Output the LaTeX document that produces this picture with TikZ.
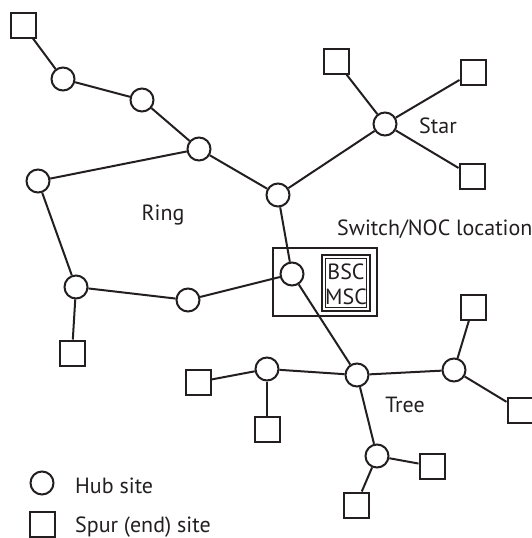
\documentclass[tikz,border=0pt]{standalone}
\usepackage{fontspec}
\setmainfont{PT Sans}
\definecolor{ink}{HTML}{231F20}
\tikzset{
  hub/.style={circle,draw=ink,line width=2pt,minimum size=23pt,inner sep=0pt},
  spur/.style={rectangle,draw=ink,line width=2pt,minimum size=25pt,inner sep=0pt},
  lbl/.style={font=\fontsize{22}{26}\selectfont,text=ink,inner sep=0pt},
  link/.style={draw=ink,line width=2pt}
}
\begin{document}
\begin{tikzpicture}[x=1pt,y=-1pt]
      \useasboundingbox (0,0) rectangle (532,538);
      % switch / NOC location
      \draw[ink,line width=1.8pt] (273,248) rectangle (377,316);
      \draw[ink,line width=2pt] (322,255) rectangle (370,311);
      \draw[ink,line width=0.9pt] (325.5,258.5) rectangle (366.5,307.5);
      \node[lbl,anchor=base] (bsc) at (346,279) {BSC};
      \node[lbl,anchor=base] (msc) at (346,304) {MSC};
      \draw
        (63,79) node[hub] (h1){}
        (142,100) node[hub] (h2){}
        (199,149) node[hub] (h3){}
        (38,181) node[hub] (h4){}
        (278,195) node[hub] (h5){}
        (385,124) node[hub] (star){}
        (292,274) node[hub] (sw){}
        (76,287) node[hub] (h6){}
        (188,300) node[hub] (h7){}
        (357,375) node[hub] (tc){}
        (267,369) node[hub] (tl){}
        (454,370) node[hub] (tr){}
        (377,456) node[hub] (tb){};
      \draw
        (23,25) node[spur] (s1){}
        (336,61) node[spur] (s2){}
        (473,72) node[spur] (s3){}
        (472,176) node[spur] (s4){}
        (72,353) node[spur] (s5){}
        (198,382) node[spur] (s6){}
        (267,429) node[spur] (s7){}
        (473,307) node[spur] (s8){}
        (520,410) node[spur] (s9){}
        (432,466) node[spur] (s10){}
        (356,505) node[spur] (s11){};
      \begin{scope}[link]
        \draw (s1) to (h1);
        \draw (h1) to (h2);
        \draw (h2) to (h3);
        \draw (h3) to (h4);
        \draw (h3) to (h5);
        \draw (h4) to (h6);
        \draw (h6) to (h7);
        \draw (h7) to (sw);
        \draw (h5) to (sw);
        \draw (h5) to (star);
        \draw (star) to (s2);
        \draw (star) to (s3);
        \draw (star) to (s4);
        \draw (h6) to (s5);
        \draw (sw) to (tc);
        \draw (tc) to (tl);
        \draw (tc) to (tr);
        \draw (tc) to (tb);
        \draw (tl) to (s6);
        \draw (tl) to (s7);
        \draw (tr) to (s8);
        \draw (tr) to (s9);
        \draw (tb) to (s10);
        \draw (tb) to (s11);
      \end{scope}
      \node[lbl,anchor=base] (ring) at (163,220) {Ring};
      \node[lbl,anchor=base] (starlbl) at (438,133) {Star};
      \node[lbl,anchor=base] (tree) at (405,412) {Tree};
      \node[lbl,anchor=base west] (noc) at (337,235) {Switch/NOC location};
      % legend
      \node[hub] (keyhub) at (42,483) {};
      \node[spur] (keyspur) at (42,524) {};
      \node[lbl,anchor=base west] (hubtxt) at (75,493) {Hub site};
      \node[lbl,anchor=base west] (spurtxt) at (75,532) {Spur (end) site};
    \end{tikzpicture}
\end{document}
